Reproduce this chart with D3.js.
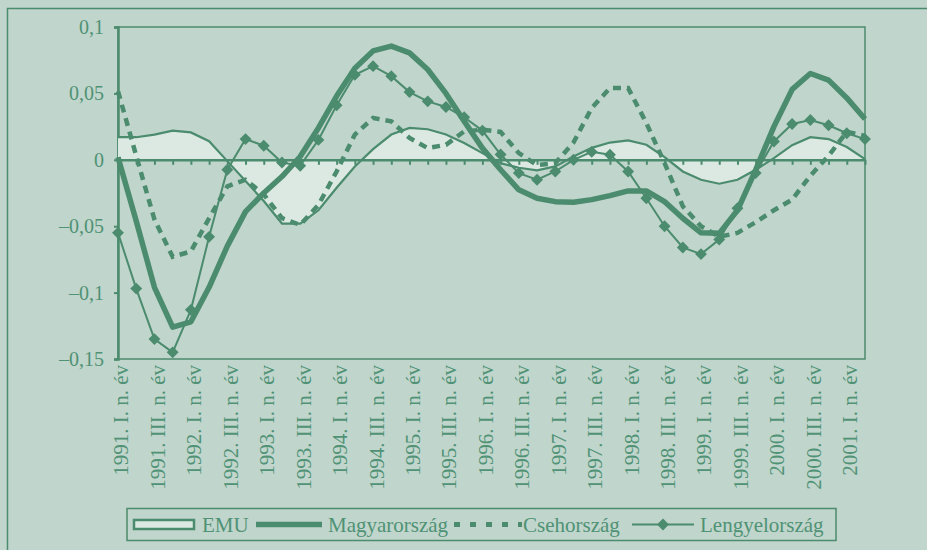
<!doctype html>
<html lang="hu">
<head>
<meta charset="utf-8">
<title>EMU, Magyarország, Csehország, Lengyelország</title>
<style>
html, body, svg { margin: 0; padding: 0; border: 0; }
body { background: #c0d5cb; }
text { font-family: "Liberation Serif", "DejaVu Serif", serif; fill: #4f9275; }
</style>
</head>
<body>
<svg id="chart" width="927" height="550"></svg>
<script src="https://d3js.org/d3.v7.min.js"></script>
<script>
// quarterly data, 1991 Q1 .. 2001 Q2
var years = [1991, 1992, 1993, 1994, 1995, 1996, 1997, 1998, 1999, 2000, 2001];
var quarterNames = ["I.", "II.", "III.", "IV."];
var yTicks = [-0.15, -0.1, -0.05, 0, 0.05, 0.1];

var emu = [0.017, 0.017, 0.019, 0.022, 0.0206, 0.014, -0.001, -0.016, -0.031, -0.048, -0.048, -0.038, -0.021, -0.005,
  0.008, 0.019, 0.024, 0.023, 0.019, 0.0126, 0.005, -0.0025, -0.006, -0.008, -0.005, 0.0025, 0.009, 0.013,
  0.0146, 0.0113, 0.002, -0.0088, -0.015, -0.018, -0.015, -0.0075, 0.0013, 0.011, 0.017, 0.0156, 0.0096, 0.0005];
var magyar = [0.002, -0.046, -0.096, -0.126, -0.122, -0.096, -0.065, -0.039, -0.025, -0.0126, 0.0025, 0.024, 0.048, 0.069,
  0.082, 0.0856, 0.0805, 0.068, 0.050, 0.029, 0.0088, -0.0075, -0.0226, -0.029, -0.0315, -0.032, -0.030, -0.027,
  -0.0234, -0.0234, -0.0315, -0.044, -0.055, -0.0554, -0.038, -0.0075, 0.025, 0.053, 0.065, 0.060, 0.0466, 0.0307];
var cseh = [0.0516, 0.003, -0.045, -0.073, -0.069, -0.044, -0.020, -0.015, -0.026, -0.044, -0.049, -0.034, -0.0088, 0.019,
  0.0315, 0.029, 0.0164, 0.0088, 0.0113, 0.0214, 0.0227, 0.021, 0.005, -0.004, -0.0025, 0.013, 0.039, 0.054,
  0.054, 0.0277, -0.0025, -0.035, -0.050, -0.058, -0.055, -0.047, -0.038, -0.030, -0.012, 0.003, 0.021, 0.018];
var lengyel = [-0.055, -0.097, -0.135, -0.145, -0.113, -0.058, -0.0075, 0.0156, 0.0106, -0.002, -0.0045, 0.015, 0.041, 0.064,
  0.0705, 0.063, 0.051, 0.044, 0.0398, 0.032, 0.022, 0.004, -0.010, -0.015, -0.0088, 0.0, 0.006, 0.0038,
  -0.0088, -0.029, -0.050, -0.066, -0.071, -0.060, -0.0365, -0.010, 0.0138, 0.027, 0.030, 0.026, 0.020, 0.0156];

var categories = [];
years.forEach(function(yr) {
  quarterNames.forEach(function(q) {
    if (categories.length < emu.length) categories.push(yr + ". " + q + " n. év");
  });
});

var green = "#4b8b6e";
var light = "#dce9e2";

var svg = d3.select("#chart");
var plotLeft = 118, plotRight = 865, plotTop = 27, plotBottom = 359;

// outer frame (runs past the window edge)
svg.append("rect")
  .attr("x", 7.5).attr("y", 8.5)
  .attr("width", 1000).attr("height", 1000)
  .attr("fill", "none").attr("stroke", green).attr("stroke-width", 1.5);

var x = d3.scalePoint().domain(categories).range([plotLeft, plotRight]);
var y = d3.scaleLinear().domain([-0.15, 0.1]).range([plotBottom, plotTop]);

// plot frame
svg.append("rect")
  .attr("x", plotLeft).attr("y", plotTop)
  .attr("width", plotRight - plotLeft).attr("height", plotBottom - plotTop)
  .attr("fill", "none").attr("stroke", green).attr("stroke-width", 1.5);

var huFormat = d3.formatLocale({decimal: ",", thousands: " ", grouping: [3], currency: ["", ""], minus: "–"}).format("~g");

var yAxis = svg.append("g")
  .attr("transform", "translate(" + plotLeft + ",0)")
  .call(d3.axisLeft(y).tickValues(yTicks).tickSize(4).tickPadding(10).tickFormat(huFormat));
yAxis.select(".domain").attr("stroke", green).attr("stroke-width", 2.5);
yAxis.selectAll(".tick line").attr("stroke", green).attr("stroke-width", 2);
yAxis.selectAll("text")
  .attr("font-size", 20).attr("fill", "#4f9275")
  .style("font-family", "Liberation Serif, serif");

// EMU area
var cats = categories.map(function(c, i) { return i; });
svg.append("path")
  .datum(cats)
  .attr("fill", light)
  .attr("d", d3.area()
    .x(function(i) { return x(categories[i]); })
    .y0(y(0))
    .y1(function(i) { return y(emu[i]); }));

// category axis on the zero line
var xAxis = svg.append("g")
  .attr("transform", "translate(0," + y(0) + ")")
  .call(d3.axisBottom(x).tickSize(5).tickSizeOuter(0).tickFormat(""));
xAxis.select(".domain").attr("stroke", green).attr("stroke-width", 2.5);
xAxis.selectAll(".tick line").attr("stroke", green).attr("stroke-width", 2);

// category labels at the bottom
var labels = svg.append("g")
  .attr("transform", "translate(0," + plotBottom + ")")
  .call(d3.axisBottom(x)
    .tickValues(categories.filter(function(c, i) { return i % 2 === 0; }))
    .tickSize(0));
labels.select(".domain").remove();
labels.selectAll("text")
  .attr("font-size", 21)
  .attr("fill", "#4f9275")
  .style("font-family", "Liberation Serif, serif")
  .attr("text-anchor", "end")
  .attr("x", -6)
  .attr("y", 0)
  .attr("dy", "0.33em")
  .attr("transform", "rotate(-90) translate(0,3)");

function lineOf(values) {
  return d3.line()
    .x(function(i) { return x(categories[i]); })
    .y(function(i) { return y(values[i]); });
}

svg.append("path").datum(cats)
  .attr("fill", "none").attr("stroke", green).attr("stroke-width", 2.2)
  .attr("d", lineOf(emu));

svg.append("path").datum(cats)
  .attr("fill", "none").attr("stroke", green).attr("stroke-width", 4.5)
  .attr("stroke-dasharray", "8,6")
  .attr("d", lineOf(cseh));

svg.append("path").datum(cats)
  .attr("fill", "none").attr("stroke", green).attr("stroke-width", 5.5)
  .attr("stroke-linejoin", "round")
  .attr("d", lineOf(magyar));

svg.append("path").datum(cats)
  .attr("fill", "none").attr("stroke", green).attr("stroke-width", 2)
  .attr("d", lineOf(lengyel));

var diamond = d3.symbol().type(d3.symbolDiamond2).size(90);
svg.append("g").selectAll("path")
  .data(cats)
  .enter()
  .append("path")
  .attr("d", diamond)
  .attr("fill", green)
  .attr("transform", function(i) { return "translate(" + x(categories[i]) + "," + y(lengyel[i]) + ")"; });

// legend
var lg = svg.append("g");
lg.append("rect")
  .attr("x", 127).attr("y", 508.5)
  .attr("width", 709).attr("height", 32)
  .attr("fill", "none").attr("stroke", green).attr("stroke-width", 1.5);

var ly = 524.5;
lg.append("rect")
  .attr("x", 134).attr("y", ly - 4.5).attr("width", 60).attr("height", 9)
  .attr("fill", light).attr("stroke", green).attr("stroke-width", 2.5);
lg.append("text").attr("x", 202).attr("y", ly + 7).attr("font-size", 21).text("EMU");

lg.append("line")
  .attr("x1", 256).attr("x2", 322).attr("y1", ly).attr("y2", ly)
  .attr("stroke", green).attr("stroke-width", 5.5);
lg.append("text").attr("x", 328).attr("y", ly + 7).attr("font-size", 21).text("Magyarország");

lg.append("line")
  .attr("x1", 454).attr("x2", 522).attr("y1", ly).attr("y2", ly)
  .attr("stroke", green).attr("stroke-width", 5).attr("stroke-dasharray", "6,10");
lg.append("text").attr("x", 523).attr("y", ly + 7).attr("font-size", 21).text("Csehország");

lg.append("line")
  .attr("x1", 632).attr("x2", 694).attr("y1", ly).attr("y2", ly)
  .attr("stroke", green).attr("stroke-width", 2);
lg.append("path")
  .attr("d", diamond)
  .attr("fill", green)
  .attr("transform", "translate(663," + ly + ")");
lg.append("text").attr("x", 700).attr("y", ly + 7).attr("font-size", 21).text("Lengyelország");
</script>
</body>
</html>
